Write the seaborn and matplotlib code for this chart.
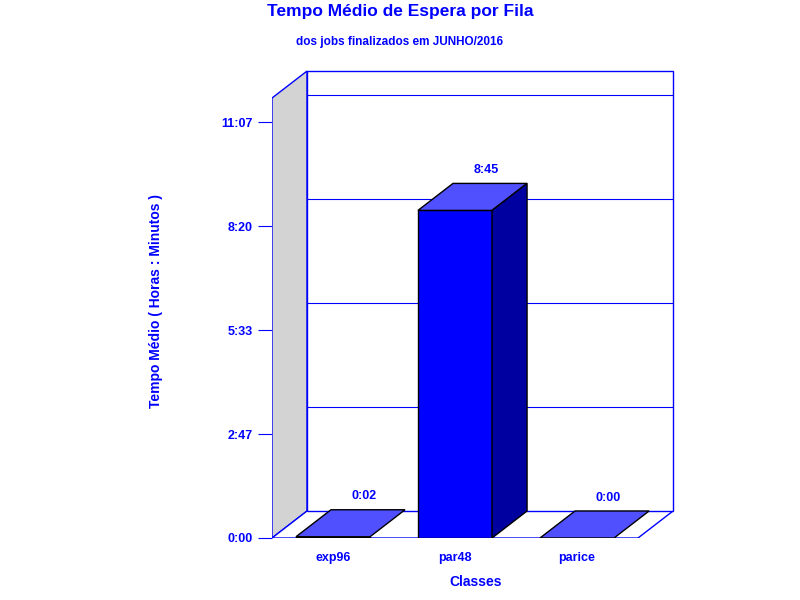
import matplotlib
matplotlib.use("Agg")
import matplotlib.pyplot as plt
from matplotlib.patches import Polygon
import seaborn as sns
import pandas as pd

# data: average wait time per queue, in seconds
classes = ["exp96", "par48", "parice"]
wait_secs = [120, 31500, 0]
value_labels = ["0:02", "8:45", "0:00"]
ytick_secs = [0, 10000, 20000, 30000, 40000]
ytick_labels = ["0:00", "2:47", "5:33", "8:20", "11:07"]

BLUE = "#0000ff"
TOP = "#5050ff"
SIDE = "#0000a0"

sns.set_style("white")
plt.rcParams["font.family"] = ["Liberation Sans", "DejaVu Sans"]

fig = plt.figure(figsize=(8, 6), dpi=100)
ax = fig.add_axes([272 / 800, 62 / 600, 408 / 800, 473 / 600])

df = pd.DataFrame({"Classe": classes, "secs": wait_secs})
sns.barplot(data=df, x="Classe", y="secs", color=BLUE, width=0.607,
            saturation=1, edgecolor="black", linewidth=1, ax=ax, zorder=3)

ax.set_xlim(-0.5, 2.844)
ax.set_ylim(0, 45481)
dx, dy = 0.287, 2596
hw = 0.3035
yback = 44900          # top of the back wall
ytop = yback - dy      # front top of the box

# side wall, floor, back wall
ax.add_patch(Polygon([(-0.5, 0), (-0.5 + dx, dy), (-0.5 + dx, yback), (-0.5, ytop)],
                     closed=True, facecolor="#d3d3d3", edgecolor=BLUE, lw=1, zorder=1))
ax.add_patch(Polygon([(-0.5, 0), (2.5, 0), (2.5 + dx, dy), (-0.5 + dx, dy)],
                     closed=True, facecolor="white", edgecolor=BLUE, lw=1, zorder=1))
ax.add_patch(Polygon([(-0.5 + dx, dy), (2.5 + dx, dy), (2.5 + dx, yback), (-0.5 + dx, yback)],
                     closed=True, facecolor="white", edgecolor=BLUE, lw=1, zorder=1))
for s in ytick_secs[1:]:
    ax.plot([-0.5 + dx, 2.5 + dx], [s + dy, s + dy], color=BLUE, lw=0.8, zorder=1)

# 3d top and side of bars
for i, v in enumerate(wait_secs):
    l, r = i - hw, i + hw
    ax.add_patch(Polygon([(l, v), (r, v), (r + dx, v + dy), (l + dx, v + dy)],
                         closed=True, facecolor=TOP, edgecolor="black", lw=1, zorder=4))
    if v > 1000:
        ax.add_patch(Polygon([(r, 0), (r + dx, dy), (r + dx, v + dy), (r, v)],
                             closed=True, facecolor=SIDE, edgecolor="black", lw=1, zorder=4))
    ax.text(i + dx * 0.9, v + dy + 700, value_labels[i], color=BLUE, fontsize=9,
            fontweight="bold", ha="center", va="bottom")

for sp in ax.spines.values():
    sp.set_visible(False)
ax.set_yticks(ytick_secs)
ax.set_yticklabels(ytick_labels)
ax.tick_params(axis="y", direction="out", length=10, color=BLUE, labelcolor=BLUE,
               labelsize=9, left=True, pad=4)
ax.tick_params(axis="x", length=0, labelcolor=BLUE, labelsize=9, pad=10)
for t in ax.get_xticklabels() + ax.get_yticklabels():
    t.set_fontweight("bold")
ax.set_xlabel("Classes", color=BLUE, fontsize=10, fontweight="bold", labelpad=8)
ax.set_ylabel("Tempo Médio ( Horas : Minutos )", color=BLUE, fontsize=10,
              fontweight="bold", labelpad=42)

fig.text(0.5, 0.993, "Tempo Médio de Espera por Fila", color=BLUE, fontsize=12.5,
         fontweight="bold", ha="center", va="top")
fig.text(0.5, 0.94, "dos jobs finalizados em JUNHO/2016", color=BLUE, fontsize=8.5,
         fontweight="bold", ha="center", va="top")

fig.savefig("out.png", dpi=100)
